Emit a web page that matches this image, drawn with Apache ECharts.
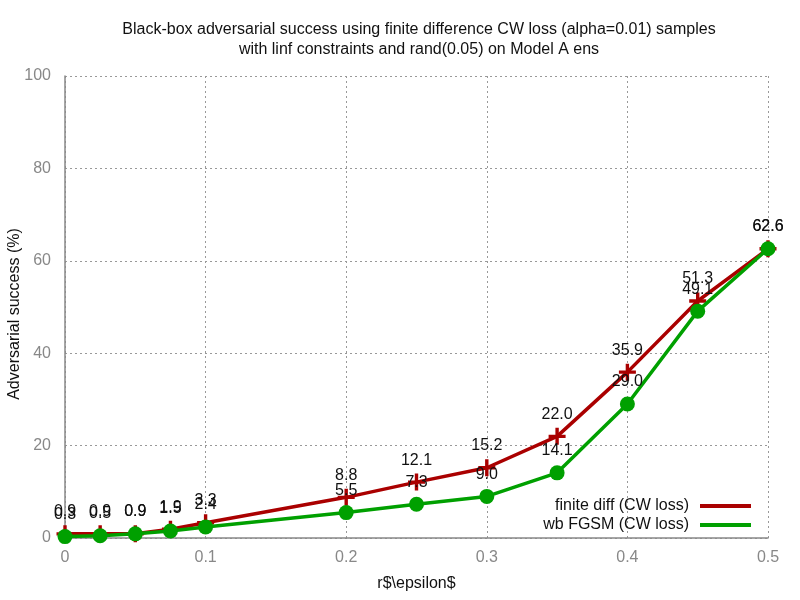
<!DOCTYPE html>
<html>
<head>
    <meta charset="utf-8" />
    <title>Black-box adversarial success</title>
    <style>
        html, body {
            margin: 0;
            padding: 0;
            background: #fff;
        }
        #chart {
            width: 800px;
            height: 600px;
        }
    </style>
    <script src="https://cdn.jsdelivr.net/npm/echarts@6/dist/echarts.min.js"></script>
</head>
<body>
    <div id="chart"></div>
    <script>
        var epsilons = [0, 0.025, 0.05, 0.075, 0.1, 0.2, 0.25, 0.3, 0.35, 0.4, 0.45, 0.5];
        var finiteDiff = [0.9, 0.9, 0.9, 1.9, 3.3, 8.8, 12.1, 15.2, 22.0, 35.9, 51.3, 62.6];
        var wbFgsm = [0.3, 0.5, 0.9, 1.5, 2.4, 5.5, 7.3, 9.0, 14.1, 29.0, 49.1, 62.6];
        var xTicks = [0, 0.1, 0.2, 0.3, 0.4, 0.5];
        var yTicks = [0, 20, 40, 60, 80, 100];

        function pairs(ys) {
            var out = [];
            for (var i = 0; i < epsilons.length; i++) {
                out.push([epsilons[i], ys[i]]);
            }
            return out;
        }

        var crossPath = 'path://M4,0 L6,0 L6,4 L10,4 L10,6 L6,6 L6,10 L4,10 L4,6 L0,6 L0,4 L4,4 Z';
        var font = '"Liberation Sans", Arial, sans-serif';

        var chart = echarts.init(document.getElementById('chart'));
        var label = {
            show: true,
            position: 'inside',
            offset: [0, -22],
            color: '#111',
            fontSize: 16,
            fontFamily: font,
            formatter: function (p) { return p.value[1].toFixed(1); }
        };
        var option = {
            animation: false,
            title: {
                text: 'Black-box adversarial success using finite difference CW loss (alpha=0.01) samples\nwith linf constraints and rand(0.05) on Model A ens',
                left: 414,
                textAlign: 'center',
                top: 15,
                textStyle: {
                    color: '#111',
                    fontSize: 16,
                    fontWeight: 'normal',
                    fontFamily: font,
                    lineHeight: 20
                }
            },
            // y axis title placed by hand, the axis name kept drifting left
            graphic: [{
                type: 'text',
                x: 15,
                y: 314,
                rotation: Math.PI / 2,
                style: {
                    text: 'Adversarial success (%)',
                    fill: '#111',
                    fontSize: 16,
                    fontFamily: font,
                    align: 'center',
                    verticalAlign: 'middle'
                }
            }],
            grid: {
                left: 65,
                right: 32,
                top: 76,
                bottom: 62,
                outerBoundsMode: 'none',
                containLabel: false
            },
            legend: {
                orient: 'vertical',
                right: 44,
                top: 493,
                align: 'right',
                icon: 'rect',
                itemWidth: 51,
                itemHeight: 4,
                itemGap: 3,
                textStyle: {
                    color: '#111',
                    fontSize: 16,
                    fontFamily: font,
                    padding: [0, 6, 0, 0]
                },
                data: ['finite diff (CW loss)', 'wb FGSM (CW loss)']
            },
            xAxis: {
                type: 'value',
                min: 0,
                max: 0.5,
                interval: 0.1,
                name: 'r$\\epsilon$',
                nameLocation: 'middle',
                nameGap: 38,
                nameTextStyle: { color: '#111', fontSize: 16, fontFamily: font },
                axisLine: { lineStyle: { color: '#888', width: 1.5 } },
                axisTick: { show: false },
                axisLabel: {
                    color: '#888',
                    fontSize: 16,
                    fontFamily: font,
                    margin: 12,
                    formatter: function (v) { return xTicks.indexOf(+v.toFixed(2)) >= 0 ? String(+v.toFixed(2)) : ''; }
                },
                splitLine: { show: true, lineStyle: { color: '#999', type: [2, 3], width: 1 } }
            },
            yAxis: {
                type: 'value',
                min: 0,
                max: 100,
                interval: 20,
                axisLine: { show: true, lineStyle: { color: '#888', width: 1.5 } },
                axisTick: { show: false },
                axisLabel: {
                    color: '#888',
                    fontSize: 16,
                    fontFamily: font,
                    margin: 14,
                    formatter: function (v) { return yTicks.indexOf(v) >= 0 ? String(v) : ''; }
                },
                splitLine: { show: true, lineStyle: { color: '#999', type: [2, 3], width: 1 } }
            },
            series: [
                {
                    name: 'finite diff (CW loss)',
                    type: 'line',
                    data: pairs(finiteDiff),
                    symbol: crossPath,
                    symbolSize: 17,
                    showAllSymbol: true,
                    lineStyle: { color: '#aa0000', width: 3.5 },
                    itemStyle: { color: '#aa0000' },
                    label: label,
                    z: 2
                },
                {
                    name: 'wb FGSM (CW loss)',
                    type: 'line',
                    data: pairs(wbFgsm),
                    symbol: 'circle',
                    symbolSize: 15,
                    showAllSymbol: true,
                    lineStyle: { color: '#00a000', width: 3.5 },
                    itemStyle: { color: '#00a000' },
                    label: label,
                    z: 3
                }
            ]
        };
        chart.setOption(option);
    </script>
</body>
</html>
